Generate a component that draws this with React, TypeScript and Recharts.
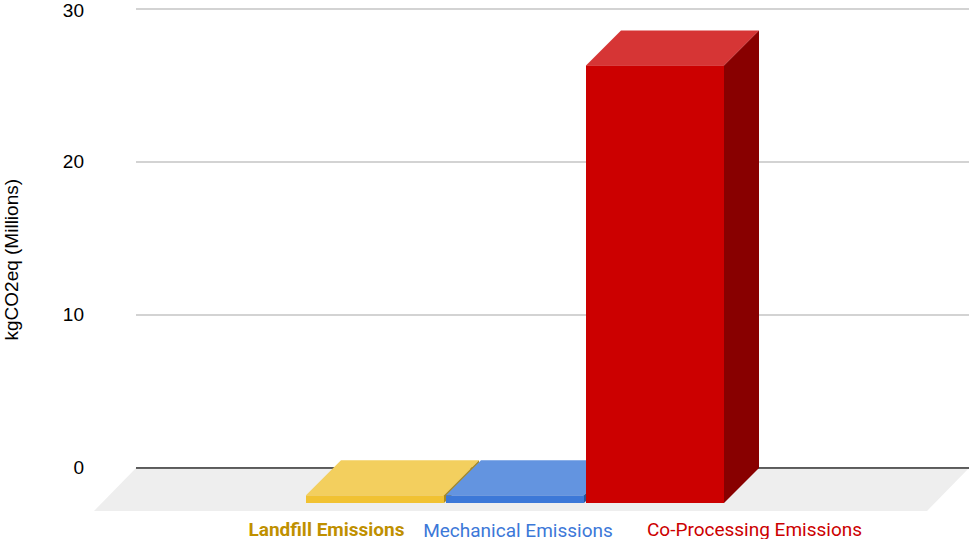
import { Bar, BarChart, CartesianGrid, XAxis, YAxis, usePlotArea } from "recharts";

const categories = ["Emissions"];
const seriesKeys = ["landfill", "mechanical", "coProcessing"];
const seriesLabels = ["Landfill Emissions", "Mechanical Emissions", "Co-Processing Emissions"];
const landfillValues = [0.5];
const mechanicalValues = [0.5];
const coProcessingValues = [28.6];
const yTicks = [0, 10, 20, 30];

const data = categories.map((name, i) => ({
  name,
  landfill: landfillValues[i],
  mechanical: mechanicalValues[i],
  coProcessing: coProcessingValues[i],
}));

const DEPTH = 35;
const FLOOR_DEPTH = 43;
const FLOOR_SKEW = 42;

const palettes = [
  { front: "#f1c232", top: "#f3cf5e", side: "#a98a22" },
  { front: "#3c78d8", top: "#6394e0", side: "#2a5497" },
  { front: "#cc0000", top: "#d63535", side: "#880000" },
];

const legendColors = ["#bf9000", "#3c78d8", "#cc0000"];
const legendWeights = [700, 400, 400];
const legendCenters = [326.5, 518, 754.5];
const legendBaselines = [535.5, 537, 535.5];

// Extruded bar: the scale gives the back face, the front face sits DEPTH towards the viewer.
function Box3D({ x, y, width, height, palette }: any) {
  const fx = x - DEPTH;
  const fy = y + DEPTH;
  const r = fx + width;
  const b = fy + height;
  return (
    <g>
      <polygon fill={palette.top} points={`${fx},${fy} ${x},${y} ${x + width},${y} ${r},${fy}`} />
      <polygon fill={palette.side} points={`${r},${fy} ${x + width},${y} ${x + width},${y + height} ${r},${b}`} />
      <rect x={fx} y={fy} width={width} height={height} fill={palette.front} />
    </g>
  );
}

// Floor plane and the zero line along its back edge, both behind the bars.
function Floor() {
  const plot = usePlotArea();
  if (!plot) return null;
  const back = plot.y + plot.height;
  const left = plot.x;
  const right = plot.x + plot.width;
  const points = `${left},${back} ${right},${back} ${right - FLOOR_SKEW},${back + FLOOR_DEPTH} ${left - FLOOR_SKEW},${back + FLOOR_DEPTH}`;
  return (
    <g>
      <polygon fill="#eeeeee" points={points} />
      <line x1={left} x2={right} y1={back} y2={back} stroke="#333333" strokeWidth={1.5} />
    </g>
  );
}

export default function App() {
  return (
    <div style={{ position: "absolute", left: 0, top: 0, width: 969, height: 539, overflow: "hidden" }}>
      <BarChart
        width={969}
        height={539}
        data={data}
        barSize={138}
        barGap={2}
        margin={{ top: 9, right: 0, bottom: 71, left: 0 }}
      >
        <CartesianGrid vertical={false} stroke="#c4c4c4" strokeWidth={1.5} />
        <Floor />
        <XAxis dataKey="name" tick={false} tickLine={false} axisLine={false} height={0} padding={{ left: 0, right: 5 }} />
        <YAxis
          width={136}
          domain={[0, 30]}
          ticks={yTicks}
          axisLine={false}
          tickLine={false}
          tickSize={0}
          tickMargin={52}
          tick={{ fill: "#000000", fontSize: 19, fontFamily: "Liberation Sans", dy: -1 }}
          label={{
            value: "kgCO2eq (Millions)",
            angle: -90,
            position: "insideLeft",
            offset: 0,
            dx: 11,
            dy: 102,
            fill: "#000000",
            fontSize: 19,
            fontFamily: "Liberation Sans",
          }}
        />
        {seriesKeys.map((key, i) => (
          <Bar
            key={key}
            dataKey={key}
            name={seriesLabels[i]}
            isAnimationActive={false}
            shape={(props: any) => <Box3D {...props} palette={palettes[i]} />}
          />
        ))}
        {seriesLabels.map((label, i) => (
          <text
            key={label}
            x={legendCenters[i]}
            y={legendBaselines[i]}
            textAnchor="middle"
            fill={legendColors[i]}
            fontFamily="Roboto"
            fontSize={19}
            fontWeight={legendWeights[i]}
          >
            {label}
          </text>
        ))}
      </BarChart>
    </div>
  );
}
